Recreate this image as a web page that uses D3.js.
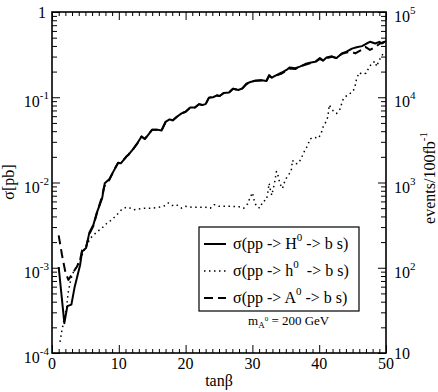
<!DOCTYPE html>
<html><head><meta charset="utf-8">
<script src="https://cdn.jsdelivr.net/npm/d3@7/dist/d3.min.js"></script>
<style>
body{margin:0;background:#fff}
</style>
</head><body>
<svg id="c" width="438" height="392"></svg>
<script>
// ---- data ----
const tanbH = [1.0,1.85,2.3,2.9,3.4,4.2,4.5,5.1,5.6,6.2,6.7,7.5,7.9,8.6,9.2,9.9,10.3,11.1,11.4,12.2,12.8,13.4,13.9,14.4,15.0,15.7,16.4,17.0,17.6,18.1,18.7,19.4,20.0,20.7,21.4,22.0,22.5,23.0,23.5,24.1,24.7,25.1,25.7,26.5,27.1,27.9,28.5,29.1,29.7,30.4,31.4,32.1,32.5,32.9,33.6,34.4,35.1,35.6,36.4,37.1,37.9,38.6,39.4,40.1,40.6,41.1,41.9,42.6,43.4,44.1,44.9,45.6,46.4,47.1,47.6,48.4,49.0,49.4,50.0];
const sigmaH = [1.02e-3,2.24e-4,3.55e-4,3.7e-4,6.0e-4,1.07e-3,1.55e-3,1.7e-3,2.6e-3,3.2e-3,4.4e-3,6.5e-3,9.8e-3,1.1e-2,1.35e-2,1.7e-2,1.68e-2,2.0e-2,2.1e-2,2.5e-2,2.9e-2,3.47e-2,3.24e-2,3.63e-2,4.17e-2,4.17e-2,4.07e-2,5.13e-2,5.5e-2,5.37e-2,5.9e-2,6.46e-2,6.76e-2,7.59e-2,7.59e-2,8.3e-2,8.1e-2,8.3e-2,9.9e-2,0.100,0.105,0.1035,0.112,0.1135,0.126,0.1216,0.127,0.1445,0.151,0.156,0.158,0.155,0.182,0.170,0.182,0.195,0.209,0.224,0.219,0.229,0.245,0.254,0.261,0.288,0.269,0.292,0.302,0.288,0.327,0.343,0.372,0.385,0.398,0.427,0.447,0.427,0.447,0.427,0.457];

const tanbA = [1.0,1.5,2.0,2.45,2.9,3.7,4.2,4.5,5.1,5.6,6.2,6.7,7.5,7.8,8.6,9.2,9.9,10.3,11.1,11.4,12.2,12.8,13.4,13.9,14.4,15.0,15.7,16.4,17.0,17.6,18.1,18.7,19.4,20.0,20.7,21.4,22.0,22.5,23.0,23.5,24.1,24.7,25.1,25.7,26.5,27.1,27.9,28.5,29.1,29.7,30.4,31.4,32.1,32.5,32.9,33.6,34.4,35.1,35.6,36.4,37.1,37.9,38.6,39.4,40.1,40.6,41.1,41.9,42.6,43.4,44.1,44.9,45.4,46.3,46.9,47.6,48.4,49.1,49.8];
const sigmaA = [2.4e-3,1.41e-3,8.9e-4,7.2e-4,8.2e-4,1.02e-3,1.23e-3,1.6e-3,1.75e-3,2.5e-3,3.1e-3,4.3e-3,6.9e-3,8.9e-3,1.08e-2,1.35e-2,1.7e-2,1.68e-2,2.0e-2,2.1e-2,2.5e-2,2.9e-2,3.47e-2,3.24e-2,3.63e-2,4.17e-2,4.17e-2,4.07e-2,5.13e-2,5.4e-2,5.37e-2,5.9e-2,6.46e-2,6.76e-2,7.59e-2,7.59e-2,8.3e-2,8.1e-2,8.3e-2,9.9e-2,0.100,0.105,0.1035,0.112,0.1135,0.126,0.1216,0.127,0.142,0.151,0.156,0.158,0.155,0.178,0.170,0.180,0.190,0.205,0.218,0.214,0.229,0.240,0.250,0.258,0.282,0.269,0.287,0.298,0.288,0.324,0.335,0.339,0.327,0.359,0.389,0.359,0.389,0.427,0.447];

const tanbh = [1.2,1.45,1.8,2.2,2.4,2.8,3.3,3.8,4.4,5.2,5.8,6.7,7.4,8.2,8.9,9.7,10.4,11.1,11.7,12.2,13.0,14.0,15.0,16.0,17.0,17.4,18.0,18.6,19.4,20.0,21.0,22.0,23.0,23.7,24.3,25.0,26.0,27.0,28.0,28.7,29.3,29.6,30.0,30.3,30.6,31.1,31.6,32.1,32.3,32.5,32.7,32.9,33.3,33.6,33.9,34.1,34.5,34.9,35.4,35.8,36.0,36.4,36.9,37.3,37.8,38.3,38.6,39.3,39.9,40.3,40.6,41.0,41.3,41.5,41.8,42.1,42.6,43.1,43.6,44.3,44.9,45.3,45.6,46.0,46.4,47.0,47.4,47.9,48.4,48.6,48.9,49.3,49.6,50.0];
const sigmah = [1.35e-4,1.78e-4,2.45e-4,3.47e-4,5.0e-4,7.24e-4,9.3e-4,1.07e-3,1.35e-3,1.86e-3,2.24e-3,2.63e-3,2.88e-3,3.31e-3,3.63e-3,4.17e-3,4.79e-3,5.13e-3,5.01e-3,4.79e-3,4.9e-3,5.0e-3,5.0e-3,5.13e-3,5.37e-3,5.75e-3,5.37e-3,5.5e-3,5.0e-3,5.25e-3,5.13e-3,5.13e-3,5.13e-3,5.0e-3,5.5e-3,5.25e-3,5.25e-3,5.25e-3,5.19e-3,5.0e-3,5.62e-3,6.53e-3,7.59e-3,6.03e-3,5.25e-3,5.0e-3,6.03e-3,6.24e-3,7.59e-3,9.77e-3,8.13e-3,7.08e-3,9.77e-3,1.35e-2,1.17e-2,9.77e-3,8.51e-3,1.07e-2,1.23e-2,1.35e-2,1.82e-2,1.66e-2,1.68e-2,1.91e-2,2.34e-2,2.75e-2,3.24e-2,3.39e-2,3.31e-2,3.8e-2,4.52e-2,5.13e-2,5.89e-2,8.13e-2,7.41e-2,6.92e-2,6.46e-2,7.24e-2,9.55e-2,0.108,0.1135,0.127,0.166,0.195,0.186,0.191,0.219,0.254,0.263,0.229,0.263,0.302,0.327,0.343];

const xTicks = [0,10,20,30,40,50];
const yLeftExp = [0,-1,-2,-3,-4];     // 10^e pb
const yRightExp = [5,4,3,2,1];        // 10^e events

// ---- drawing ----
const svg = d3.select("#c");
const FONT = "'Liberation Serif','Times New Roman',Times,'Nimbus Roman','Nimbus Roman No9 L',FreeSerif,'DejaVu Serif','Noto Serif',serif";
const L=52,R=386,T=12,B=353;
const x = d3.scaleLinear().domain([0,50]).range([L,R]);
const y = d3.scaleLog().domain([1e-4,1]).range([B,T]);
const yR = d3.scaleLog().domain([10,1e5]).range([B,T]);

const xMinor = d3.range(0,51,1).filter(v=>v%10!==0);
const yMinor = [];
for(let e=-4;e<0;e++) for(let m=2;m<=9;m++) yMinor.push(m*Math.pow(10,e));
const yRMinor = [];
for(let e=1;e<5;e++) for(let m=2;m<=9;m++) yRMinor.push(m*Math.pow(10,e));

function ax(gen, vals, size, tr){
  const g = svg.append("g").attr("transform",tr)
    .call(gen.tickValues(vals).tickSize(size).tickSizeOuter(0).tickFormat(""));
  g.select(".domain").remove();
  g.selectAll(".tick line").attr("stroke","#000").attr("stroke-width",1);
  return g;
}
ax(d3.axisBottom(x), xTicks, -8, `translate(0,${B})`);
ax(d3.axisBottom(x), xMinor, -4, `translate(0,${B})`);
ax(d3.axisTop(x), xTicks, -8, `translate(0,${T})`);
ax(d3.axisTop(x), xMinor, -4, `translate(0,${T})`);
ax(d3.axisLeft(y), yLeftExp.map(e=>Math.pow(10,e)), -8, `translate(${L},0)`);
ax(d3.axisLeft(y), yMinor, -5, `translate(${L},0)`);
ax(d3.axisRight(yR), yRightExp.map(e=>Math.pow(10,e)), -8, `translate(${R},0)`);
ax(d3.axisRight(yR), yRMinor, -5, `translate(${R},0)`);

svg.append("rect").attr("x",L).attr("y",T).attr("width",R-L).attr("height",B-T)
  .attr("fill","none").attr("stroke","#000").attr("stroke-width",1.6);

function txt(sel){ return sel.style("font-family",FONT).attr("fill","#000"); }

// tick labels
svg.append("g").selectAll("text").data(xTicks).join("text")
  .style("font-family",FONT)
  .attr("x",d=>x(d)).attr("y",B+16).attr("text-anchor","middle")
  .attr("font-size",16).text(d=>d);

function powLabel(xp, yp, e, anchor){
  const t = txt(svg.append("text")).attr("x",xp).attr("y",yp).attr("text-anchor",anchor).attr("font-size",16);
  if(e===0){ t.text("1"); return t; }
  if(e===1){ t.text("10"); return t; }
  t.append("tspan").text("10");
  t.append("tspan").attr("font-size",11).attr("dy",-8).text(e);
  return t;
}
yLeftExp.forEach(e=>{
  const yy = y(Math.pow(10,e));
  if(e===0) powLabel(46, yy+5.5, e, "end");
  else powLabel(49, yy+10, e, "end");
});
yRightExp.forEach(e=>{
  const yy = yR(Math.pow(10,e));
  if(e===1) powLabel(394, yy+5.5, e, "start");
  else powLabel(394, yy+10, e, "start");
});

// axis titles
txt(svg.append("text")).attr("x",x(25)).attr("y",386).attr("text-anchor","middle")
  .attr("font-size",16).text("tanβ");
txt(svg.append("text")).attr("transform",`translate(14,182) rotate(-90)`).attr("text-anchor","middle")
  .attr("font-size",16).text("σ[pb]");
const rt = txt(svg.append("text")).attr("transform",`translate(435,178) rotate(-90)`).attr("text-anchor","middle")
  .attr("font-size",16);
rt.append("tspan").text("events/100fb");
rt.append("tspan").attr("font-size",11).attr("dy",-8).text("-1");

// lines
const line = d3.line().x(d=>x(d[0])).y(d=>y(d[1]));
const series = [
  {t:tanbh, s:sigmah, dash:"1.5,3.5", w:1.5},
  {t:tanbA, s:sigmaA, dash:"9,5", w:2},
  {t:tanbH, s:sigmaH, dash:null, w:2}
];
series.forEach(sr=>{
  svg.append("path").datum(d3.zip(sr.t, sr.s)).attr("d",line)
    .attr("fill","none").attr("stroke","#000").attr("stroke-width",sr.w)
    .attr("stroke-linejoin","round")
    .attr("stroke-dasharray",sr.dash);
});

// legend
svg.append("rect").attr("x",199).attr("y",227).attr("width",160).attr("height",84)
  .attr("fill","#fff").attr("stroke","#000").attr("stroke-width",1.2);
const leg = [
  {name:"H", dash:null, w:2, cy:244, gap:0},
  {name:"h", dash:"1.5,3.5", w:1.5, cy:271, gap:4},
  {name:"A", dash:"9,5", w:2, cy:298, gap:0}
];
leg.forEach(l=>{
  svg.append("line").attr("x1",204).attr("x2",226).attr("y1",l.cy).attr("y2",l.cy)
    .attr("stroke","#000").attr("stroke-width",l.w).attr("stroke-dasharray",l.dash);
  const t = txt(svg.append("text")).attr("x",233).attr("y",l.cy+5).attr("font-size",16);
  t.append("tspan").text("σ(pp -> "+l.name);
  t.append("tspan").attr("font-size",11).attr("dy",-8).text("0");
  t.append("tspan").attr("dy",8).attr("dx",l.gap).text(" -> b s)");
});
const mt = txt(svg.append("text")).attr("x",248).attr("y",325).attr("font-size",13);
mt.append("tspan").text("m");
mt.append("tspan").attr("font-size",9).attr("dy",3).text("A");
mt.append("tspan").attr("font-size",7).attr("dy",-7).text("0");
mt.append("tspan").attr("dy",4).text(" = 200 GeV");
</script>
</body></html>
